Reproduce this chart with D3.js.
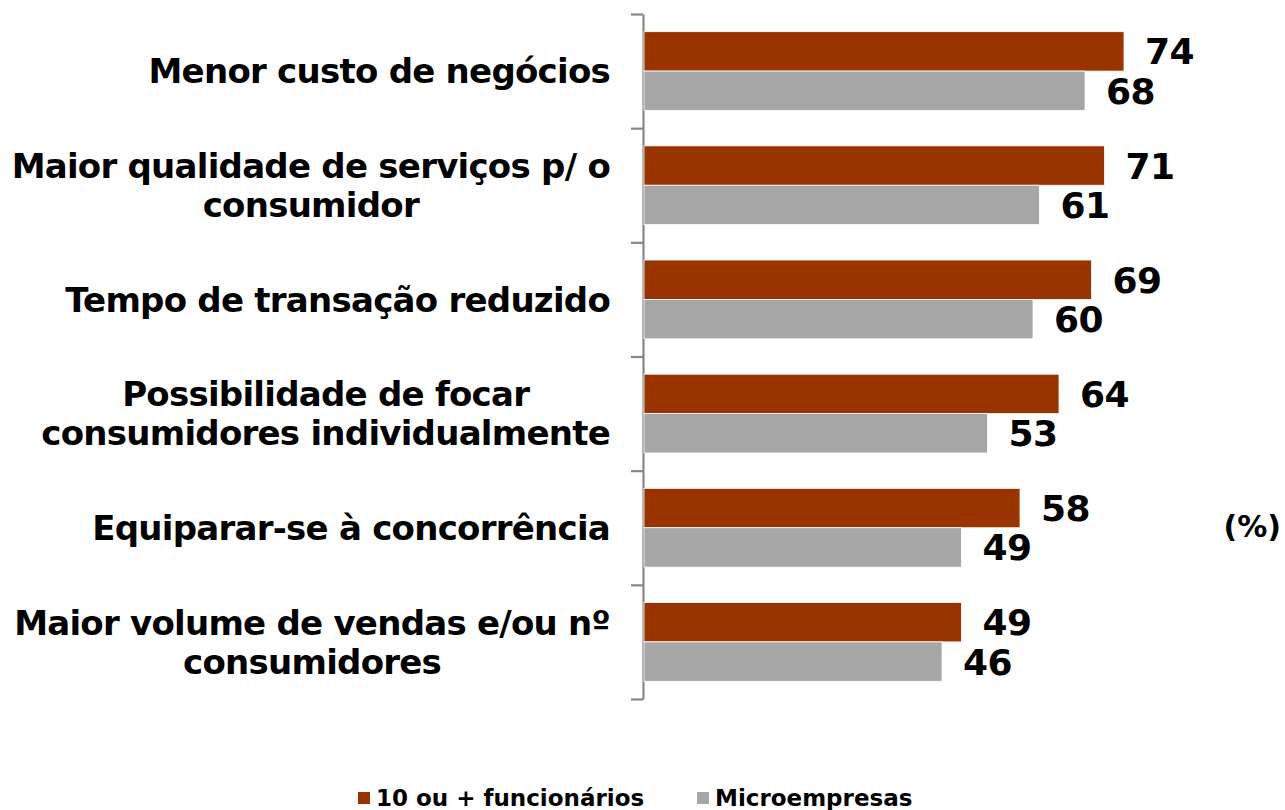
<!DOCTYPE html>
<html>
<head>
<meta charset="utf-8">
<script src="https://cdn.jsdelivr.net/npm/d3@7"></script>
<style>
  html, body { margin: 0; padding: 0; background: #fff; }
  svg { display: block; }
  text { font-family: "DejaVu Sans", Verdana, sans-serif; font-weight: bold; fill: #000; }
</style>
</head>
<body>
<svg id="chart" width="1285" height="810"></svg>
<script>
// Benefits perceived, by company size (%)
const categories = [
  ["Menor custo de negócios"],
  ["Maior qualidade de serviços p/ o", "consumidor"],
  ["Tempo de transação reduzido"],
  ["Possibilidade de focar", "consumidores individualmente"],
  ["Equiparar-se à concorrência"],
  ["Maior volume de vendas e/ou nº", "consumidores"]
];
const seriesNames = ["10 ou + funcionários", "Microempresas"];
const largeCompanies = [74, 71, 69, 64, 58, 49];
const microCompanies = [68, 61, 60, 53, 49, 46];
const seriesColors = ["#993300", "#a6a6a6"];
const unitLabel = "(%)";

const svg = d3.select("#chart");

const axisX = 643;
const plotTop = 14, plotBottom = 699;

const catKeys = categories.map((c, i) => i);
const y = d3.scaleBand().domain(catKeys).range([plotTop, plotBottom])
  .paddingInner(0.31).paddingOuter(0.155);
const ySeries = d3.scaleBand().domain([0, 1]).range([0, y.bandwidth()]);
const x = d3.scaleLinear().domain([0, 100]).range([axisX, axisX + 650]);

// Category separator axis
const yBound = d3.scaleLinear().domain([0, categories.length]).range([plotTop, plotBottom]);
const axis = svg.append("g")
  .attr("transform", `translate(${axisX},0)`)
  .call(d3.axisLeft(yBound).tickValues(d3.range(categories.length + 1))
    .tickSize(12).tickFormat("").tickSizeOuter(0));
axis.selectAll("path, line").attr("stroke", "#868686").attr("stroke-width", 2.2);

// Bars
const values = [largeCompanies, microCompanies];
values.forEach((vals, s) => {
  const g = svg.append("g");
  g.selectAll("rect").data(vals).join("rect")
    .attr("x", x(0) + 1)
    .attr("y", (d, i) => y(i) + ySeries(s))
    .attr("width", d => x(d) - x(0) - 1)
    .attr("height", ySeries.bandwidth())
    .attr("fill", seriesColors[s])
    .attr("stroke", "#fff")
    .attr("stroke-width", 0.8);
  g.selectAll("text").data(vals).join("text")
    .attr("x", d => x(d) + 21)
    .attr("y", (d, i) => y(i) + ySeries(s) + ySeries.bandwidth() / 2 + 13)
    .attr("font-size", 36)
    .attr("letter-spacing", -0.5)
    .text(d => d);
});

// Category labels: centered lines, block right-aligned
const labelRight = 610;
const lineH = 39;
const fs = 34;
categories.forEach((lines, i) => {
  const t = svg.append("text").attr("font-size", fs).attr("text-anchor", "middle")
    .attr("letter-spacing", -0.75);
  const cy = y(i) + y.bandwidth() / 2;
  lines.forEach((ln, k) => {
    t.append("tspan")
      .attr("y", cy + (k - (lines.length - 1) / 2) * lineH + fs * 0.36)
      .text(ln);
  });
  let w = 0;
  t.selectAll("tspan").each(function () { w = Math.max(w, this.getComputedTextLength()); });
  t.selectAll("tspan").attr("x", labelRight - w / 2);
});

// Unit note
svg.append("text").attr("x", 1281).attr("y", 537).attr("text-anchor", "end")
  .attr("font-size", 30).text(unitLabel);

// Legend
const legendX = [358, 697];
seriesNames.forEach((name, s) => {
  svg.append("rect").attr("x", legendX[s]).attr("y", 792).attr("width", 12).attr("height", 12)
    .attr("fill", seriesColors[s]);
  svg.append("text").attr("x", legendX[s] + 18).attr("y", 806).attr("font-size", 23).text(name);
});
</script>
</body>
</html>
